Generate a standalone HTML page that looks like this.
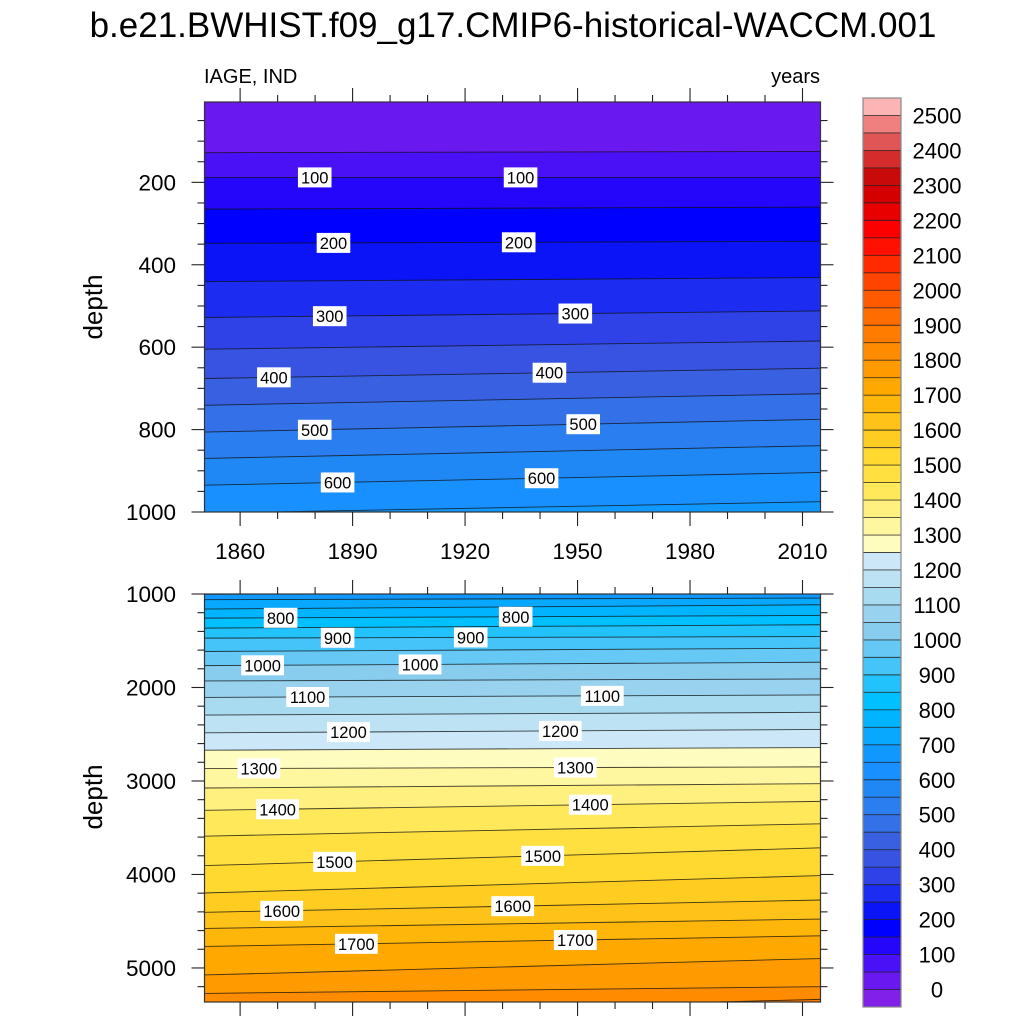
<!DOCTYPE html>
<html><head><meta charset="utf-8"><style>
html,body{margin:0;padding:0;background:#fff;overflow:hidden;}
svg{display:block;font-family:"Liberation Sans",sans-serif;}
</style></head><body>
<svg id="chart" width="1024" height="1024" viewBox="0 0 1024 1024" xmlns="http://www.w3.org/2000/svg">
<text x="513" y="37" font-size="35" text-anchor="middle">b.e21.BWHIST.f09_g17.CMIP6-historical-WACCM.001</text>
<text x="204" y="83" font-size="20">IAGE, IND</text>
<text x="820" y="83" font-size="20" text-anchor="end">years</text>
<text transform="translate(102,307) rotate(-90)" font-size="26" text-anchor="middle">depth</text>
<text transform="translate(102,797) rotate(-90)" font-size="26" text-anchor="middle">depth</text>
<g id="top"></g>
<g id="bot"></g>
<g id="cbar"></g>
</svg>
<script>
// contour levels and their depth at the start / end year
const levels = [50,100,150,200,250,300,350,400,450,500,550,600,650,700,750,800,850,900,950,1000,1050,1100,1150,1200,1250,1300,1350,1400,1450,1500,1550,1600,1650,1700,1750,1800,1850];
const depthStart = [128,188,265,348,441,528,605,676,741,806,870,935,1003,1061,1161,1258,1365,1472,1615,1766,1930,2106,2295,2485,2671,2867,3075,3314,3590,3905,4198,4405,4577,4770,5075,5272,5500];
const depthEnd = [125,188,260,343,431,512,585,651,713,775,839,904,975,1043,1115,1229,1329,1455,1580,1730,1909,2080,2266,2449,2642,2849,3029,3218,3458,3715,4012,4273,4477,4656,4899,5200,5336];
const yearStart = 1850.5, yearEnd = 2014.8;
const xTicks = [1860,1890,1920,1950,1980,2010];
const topYTicks = [200,400,600,800,1000];
const botYTicks = [1000,2000,3000,4000,5000];
const topLabelYears = [1879.9,1934.8,1884.9,1934.3,1883.9,1949.4,1869,1942.5,1879.9,1951.5,1886,1940.4];
const topLabelLevels = [100,100,200,200,300,300,400,400,500,500,600,600];
const botLabelYears = [1870.8,1933.5,1886,1921.5,1866,1908,1878,1956.6,1888.9,1945.4,1865,1949.4,1870,1953.4,1885.2,1940.7,1871.1,1932.7,1891,1949.4];
const botLabelLevels = [800,800,900,900,1000,1000,1100,1100,1200,1200,1300,1300,1400,1400,1500,1500,1600,1600,1700,1700];
const cbLevels = [];
for (let v = 0; v <= 2500; v += 50) cbLevels.push(v);
const cbTickLabels = ['0','100','200','300','400','500','600','700','800','900','1000','1100','1200','1300','1400','1500','1600','1700','1800','1900','2000','2100','2200','2300','2400','2500'];
// colours: index 0 = below 0, index k+1 = band [cbLevels[k], cbLevels[k]+50]
const colors = ['#8020e8','#6a18f0','#4a10f6','#2606fa','#0000ff','#0a14f6','#1c2cf0','#2e42e8','#3852e2','#3860e0','#3470e8','#2a7ef0','#2088f4','#1890ff','#1098ff','#08a8ff','#00b4ff','#00c0ff','#22c2fc','#44c4f8','#66c8f4','#88ccee','#98d2ee','#a8daf0','#bce2f4','#cce8f8',
'#fffcc0','#fff6a0','#fff080','#ffe85a','#ffe040','#ffd830','#ffcc22','#ffc218','#ffb60a','#ffa800','#ff9a00','#ff8c00','#ff7c00','#ff6c00','#ff5a00','#ff4400','#ff2a00','#ff1000','#fc0000','#e80000','#d40000','#c80a0a','#d42c2c','#e05555','#f08080','#fcb4b4'];

const NS='http://www.w3.org/2000/svg';
function mk(tag, attrs, parent){const e=document.createElementNS(NS,tag);for(const k in attrs)e.setAttribute(k,attrs[k]);parent.appendChild(e);return e;}
const X0=204.5, X1=820.5;
function xs(y){return X0+(y-yearStart)/(yearEnd-yearStart)*(X1-X0);}
function lineDepth(i,yr){const t=(yr-yearStart)/(yearEnd-yearStart);return depthStart[i]+(depthEnd[i]-depthStart[i])*t;}

function panel(g, id, Y0, Y1, dMin, dMax, yTicks, minorStep, labYears, labLevels, showXLabels){
  const ys=d=>Y0+(d-dMin)/(dMax-dMin)*(Y1-Y0);
  const clampY=v=>Math.max(Y0-2,Math.min(Y1+2,v));
  const defs=mk('defs',{},g);
  const cp=mk('clipPath',{id:'clip'+id},defs);
  mk('rect',{x:X0,y:Y0,width:X1-X0,height:Y1-Y0},cp);
  const fill=mk('g',{'clip-path':'url(#clip'+id+')'},g);
  
  
  const bg=mk('rect',{x:X0,y:Y0,width:X1-X0,height:Y1-Y0,fill:colors[1]},fill);
  
  
  for(let i=0;i<levels.length;i++){
    const a=ys(depthStart[i]), b=ys(depthEnd[i]);
    if(a>Y1+2 && b>Y1+2) continue;
    const idx=levels[i]/50+1;
    const p=mk('polygon',{points:`${X0},${a} ${X1},${b} ${X1},${Y1+2} ${X0},${Y1+2}`,fill:colors[idx]},fill);
    
    
  }
  for(let i=0;i<levels.length;i++){
    const a=ys(depthStart[i]), b=ys(depthEnd[i]);
    if((a<Y0&&b<Y0)||(a>Y1&&b>Y1)) continue;
    const l=mk('line',{x1:X0,y1:a,x2:X1,y2:b,stroke:'#111',"stroke-width":0.9,"stroke-opacity":0.8},fill);
    
    
  }
  for(let j=0;j<labYears.length;j++){
    const i=levels.indexOf(labLevels[j]);
    const x=xs(labYears[j]), y=ys(lineDepth(i,labYears[j]));
    const txt=String(labLevels[j]);
    const w=txt.length*9.2+6;
    const lg=mk('g',{},fill);
    
    
    mk('rect',{x:x-w/2,y:y-10,width:w,height:20,fill:'#fff'},lg);
    const t=mk('text',{x:x,y:y+6,"font-size":16.5,"text-anchor":"middle"},lg);
    t.textContent=txt;
  }
  const fr=mk('rect',{x:X0,y:Y0,width:X1-X0,height:Y1-Y0,fill:'none',stroke:'#333',"stroke-width":1.2},g);
  
  
  const tk=mk('g',{stroke:'#222',"stroke-width":1.1},g);
  
  
  for(let yr=1860;yr<=2010;yr+=10){
    const x=xs(yr), L=(yr-1860)%30===0?14:7;
    mk('line',{x1:x,y1:Y0,x2:x,y2:Y0-L},tk);
    mk('line',{x1:x,y1:Y1,x2:x,y2:Math.min(Y1+L,1023)},tk);
  }
  for(let d=Math.ceil(dMin/minorStep)*minorStep; d<=dMax; d+=minorStep){
    const y=ys(d), L=yTicks.includes(d)?13:7;
    mk('line',{x1:X0,y1:y,x2:X0-L,y2:y},tk);
    mk('line',{x1:X1,y1:y,x2:X1+L,y2:y},tk);
  }
  yTicks.forEach(d=>{
    const t=mk('text',{x:176,y:ys(d)+8,"font-size":22.5,"text-anchor":"end"},g);
    
    
    t.textContent=d;
  });
  if(showXLabels){
    xTicks.forEach(yr=>{
      const t=mk('text',{x:xs(yr),y:Y1+47,"font-size":22.5,"text-anchor":"middle"},g);
      
      
      t.textContent=yr;
    });
  }
}
panel(document.getElementById('top'),'top',102,512,5,1000,topYTicks,50,topLabelYears,topLabelLevels,true);
panel(document.getElementById('bot'),'bottom',594,1002,1000,5364,botYTicks,200,botLabelYears,botLabelLevels,false);

// colorbar
const cb=document.getElementById('cbar');
const CX=863, CW=38, CT=98, CB=1007;
const nBox=colors.length, bh=(CB-CT)/nBox;
for(let k=0;k<nBox;k++){
  const y=CB-(k+1)*bh;
  const r=mk('rect',{x:CX,y:y,width:CW,height:bh+0.3,fill:colors[k]},cb);
  
  
}
cbLevels.forEach((v,k)=>{
  const y=CB-(k+1)*bh;
  mk('line',{x1:CX,y1:y,x2:CX+CW,y2:y,stroke:'#222',"stroke-width":0.9,"stroke-opacity":0.85},cb);
});
const cbf=mk('rect',{x:CX,y:CT,width:CW,height:CB-CT,fill:'none',stroke:'#888',"stroke-width":1.2},cb);


cbTickLabels.forEach((s,k)=>{
  const y=CB-(2*k+1)*bh;
  const t=mk('text',{x:937,y:y+8,"font-size":22,"text-anchor":"middle"},cb);
  
  
  t.textContent=s;
});
</script>
</body></html>
